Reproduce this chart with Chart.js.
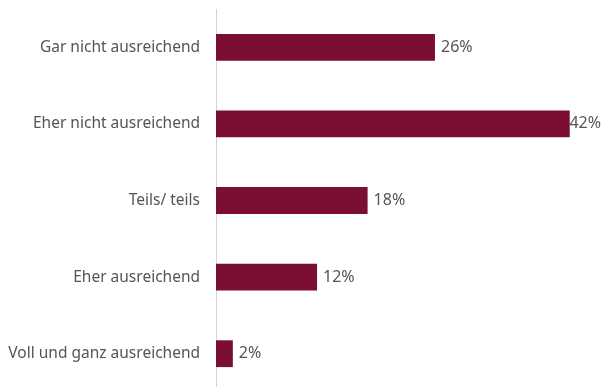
<!DOCTYPE html>
<html>
<head>
<meta charset="utf-8">
<script src="https://cdn.jsdelivr.net/npm/chart.js@4/dist/chart.umd.min.js"></script>
<style>
  html, body { margin: 0; padding: 0; background: #fff; overflow: hidden; }
  canvas { display: block; }
</style>
</head>
<body>
<canvas id="chart" width="603" height="392"></canvas>
<script>
// Antworten und Anteile in %
const categories = [
  'Gar nicht ausreichend',
  'Eher nicht ausreichend',
  'Teils/ teils',
  'Eher ausreichend',
  'Voll und ganz ausreichend'
];
const shares = [26, 42, 18, 12, 2];

const barColor = '#7a0f31';
const textColor = '#555555';
const fontFamily = '"Noto Sans", sans-serif';

// Prozentwerte rechts neben die Balken schreiben, am rechten Rand einrücken
const valueLabels = {
  id: 'valueLabels',
  afterDatasetsDraw(chart) {
    const ctx = chart.ctx;
    const meta = chart.getDatasetMeta(0);
    ctx.save();
    ctx.font = '16px ' + fontFamily;
    ctx.fillStyle = textColor;
    ctx.textAlign = 'left';
    ctx.textBaseline = 'middle';
    meta.data.forEach((bar, i) => {
      const text = shares[i] + '%';
      const w = ctx.measureText(text).width;
      const x = Math.min(bar.x + 6, chart.width - w - 2);
      ctx.fillText(text, x, bar.y);
    });
    ctx.restore();
  }
};

const chart = new Chart(document.getElementById('chart'), {
  type: 'bar',
  data: {
    labels: categories,
    datasets: [{
      data: shares,
      backgroundColor: barColor,
      borderWidth: 0,
      barPercentage: 0.7,
      categoryPercentage: 0.5
    }]
  },
  options: {
    indexAxis: 'y',
    responsive: false,
    animation: false,
    layout: { padding: { top: 9, right: 8, bottom: 0, left: 0 } },
    plugins: {
      legend: { display: false },
      tooltip: { enabled: false }
    },
    scales: {
      x: {
        display: false,
        min: 0,
        max: 45
      },
      y: {
        afterFit(scale) {
          scale.width = 216;
          scale.paddingTop = 0;
          scale.paddingBottom = 0;
        },
        grid: { display: false, drawTicks: false },
        border: { display: true, color: '#d4d4d4', width: 1 },
        ticks: {
          padding: 16,
          color: textColor,
          font: { size: 15.5, family: fontFamily }
        }
      }
    }
  },
  plugins: [valueLabels]
});
</script>
</body>
</html>
